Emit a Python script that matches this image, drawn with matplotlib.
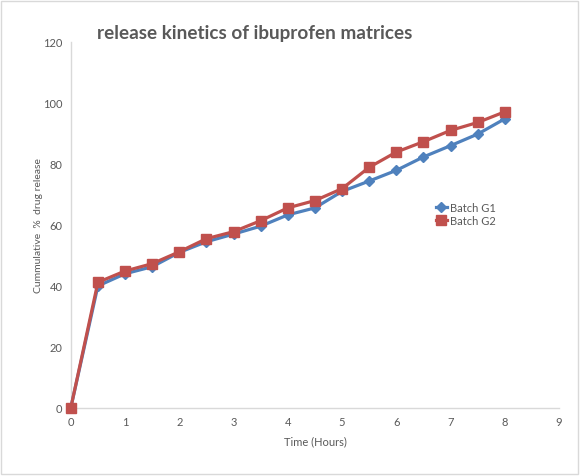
import matplotlib
matplotlib.use("Agg")
import matplotlib.pyplot as plt
from matplotlib.patches import Rectangle

time_h = [0, 0.5, 1, 1.5, 2, 2.5, 3, 3.5, 4, 4.5, 5, 5.5, 6, 6.5, 7, 7.5, 8]
batch_g1 = [0, 40, 44, 46.3, 51, 54.5, 57, 59.6, 63.3, 65.6, 71, 74.4, 77.9, 82.3, 86, 89.8, 94.8]
batch_g2 = [0, 41.2, 44.9, 47.3, 51.2, 55.5, 57.8, 61.4, 65.6, 68, 71.9, 78.9, 83.9, 87.3, 91, 93.6, 97.1]
x_ticks = list(range(0, 10))
y_ticks = [0, 20, 40, 60, 80, 100, 120]

plt.rcParams['font.family'] = ['Lato', 'DejaVu Sans']
txt = '#595959'

fig = plt.figure(figsize=(5.8, 4.77), dpi=100)
fig.patches.append(Rectangle((0.002, 0.004), 0.995, 0.992, transform=fig.transFigure,
                             fill=False, edgecolor='#d9d9d9', linewidth=1.0))
ax = fig.add_axes([0.122, 0.1426, 0.842, 0.7674])

ax.plot(time_h, batch_g1, color='#4F81BD', marker='D', markersize=5.5, linewidth=2.3,
        label='Batch G1', clip_on=False, zorder=3)
ax.plot(time_h, batch_g2, color='#C0504D', marker='s', markersize=7, linewidth=2.3,
        label='Batch G2', clip_on=False, zorder=4)

ax.set_xlim(0, 9)
ax.set_ylim(0, 120)
ax.set_xticks(x_ticks)
ax.set_yticks(y_ticks)
ax.tick_params(length=0, labelsize=8, colors=txt, pad=6)
for s in ['top', 'right']:
    ax.spines[s].set_visible(False)
for s in ['left', 'bottom']:
    ax.spines[s].set_color('#d9d9d9')
    ax.spines[s].set_linewidth(1.0)

ax.set_xlabel('Time (Hours)', fontsize=8, color=txt, labelpad=6)
ax.set_ylabel('Cummulative  %  drug release', fontsize=7.5, color=txt, labelpad=0)

fig.text(97/580, 1 - 33/477, 'release kinetics of ibuprofen matrices', fontsize=13.6,
         fontweight='bold', color=txt, ha='left', va='center')

leg = ax.legend(loc='upper left', bbox_to_anchor=(430/580, 1 - 197/477),
                bbox_transform=fig.transFigure, frameon=False, fontsize=8,
                handlelength=1.0, handletextpad=0.3, labelspacing=0.25, borderpad=0)
for t in leg.get_texts():
    t.set_color(txt)

fig.savefig('out.png', dpi=100)
